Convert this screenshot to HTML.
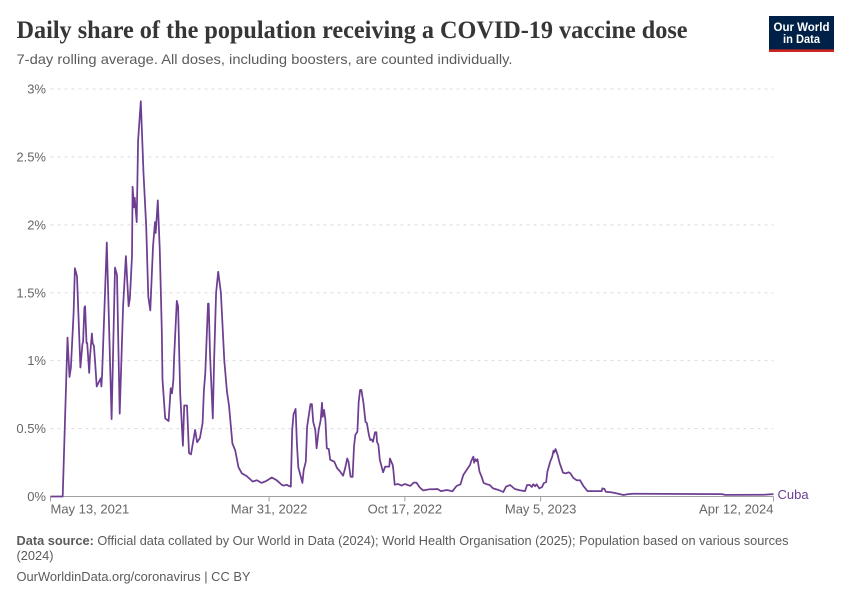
<!DOCTYPE html>
<html lang="en">
<head>
<meta charset="utf-8">
<title>Daily share of the population receiving a COVID-19 vaccine dose</title>
<style>
html,body{margin:0;padding:0;background:#fff;}
svg{display:block;}
text{font-family:"Liberation Sans",sans-serif;}
</style>
</head>
<body>
<svg id="chart" width="850" height="600" viewBox="0 0 850 600" xmlns="http://www.w3.org/2000/svg">
  <rect x="0" y="0" width="850" height="600" fill="#ffffff"/>
  <text x="16.5" y="38" font-size="25" font-weight="700" fill="#363636" textLength="671" lengthAdjust="spacingAndGlyphs" style="font-family:'Liberation Serif',serif;">Daily share of the population receiving a COVID-19 vaccine dose</text>
  <text x="16.5" y="64" font-size="14" fill="#5b5b5b" textLength="496" lengthAdjust="spacingAndGlyphs">7-day rolling average. All doses, including boosters, are counted individually.</text>

  <g>
    <rect x="769" y="16" width="65" height="36" fill="#002147"/>
    <rect x="769" y="49.4" width="65" height="2.6" fill="#ce261e"/>
    <text x="801.5" y="31" font-size="11.5" font-weight="700" fill="#ffffff" text-anchor="middle" textLength="56" lengthAdjust="spacingAndGlyphs">Our World</text>
    <text x="801.5" y="43" font-size="11.5" font-weight="700" fill="#ffffff" text-anchor="middle" textLength="37" lengthAdjust="spacingAndGlyphs">in Data</text>
  </g>

  <g id="grid"></g>
  <g id="yLabels"></g>
  <g id="xAxis"></g>
  <g id="series"></g>

  <text x="16.5" y="545" font-size="13" fill="#5b5b5b" textLength="772" lengthAdjust="spacingAndGlyphs"><tspan font-weight="700">Data source:</tspan> Official data collated by Our World in Data (2024); World Health Organisation (2025); Population based on various sources</text>
  <text x="16.5" y="560" font-size="13" fill="#5b5b5b" textLength="37" lengthAdjust="spacingAndGlyphs">(2024)</text>
  <text x="16.5" y="581" font-size="13" fill="#5b5b5b" textLength="234" lengthAdjust="spacingAndGlyphs">OurWorldinData.org/coronavirus | CC BY</text>
</svg>
<script>
// Days since May 13, 2021
var days = [0,18,23,25,28,30,34,36,39,44,47,48,50,51,53,54,57,58,61,62,64,66,68,72,74,75,76,83,90,95,98,102,107,111,115,117,120,121,123,124,127,129,133,137,141,144,147,151,154,155,158,161,164,165,169,174,177,179,181,182,186,188,191,195,197,201,204,207,213,216,220,224,226,228,232,233,235,239,241,244,247,251,256,260,263,268,272,277,282,289,298,304,311,318,326,333,341,344,348,350,354,356,358,361,363,365,367,371,373,376,378,381,383,385,387,390,392,395,398,400,401,403,405,407,410,412,418,422,426,431,434,437,439,442,445,447,449,452,454,456,458,461,464,466,469,471,473,475,478,480,481,483,485,490,493,499,500,504,505,507,512,517,522,530,535,539,544,549,558,564,570,575,584,592,598,604,608,613,618,620,623,624,626,628,629,632,635,638,643,647,652,660,667,671,677,684,692,699,702,706,709,711,714,716,720,724,727,730,732,736,739,741,742,744,747,750,755,759,763,766,770,775,780,785,791,812,813,816,818,827,834,844,851,859,989,994,1050,1065];
// Daily share of the population receiving a dose, percent
var shares = [0,0,0.83,1.17,0.88,0.95,1.35,1.68,1.62,0.95,1.12,1.14,1.39,1.40,1.13,1.13,0.91,1.02,1.20,1.13,1.11,0.97,0.81,0.85,0.87,0.81,0.90,1.87,0.57,1.685,1.63,0.61,1.40,1.77,1.40,1.46,1.77,2.28,2.13,2.20,2.02,2.62,2.91,2.38,1.99,1.47,1.37,1.84,2.02,1.94,2.18,1.81,1.22,0.86,0.575,0.556,0.797,0.76,0.86,1.02,1.44,1.40,0.76,0.374,0.67,0.67,0.32,0.31,0.49,0.40,0.43,0.54,0.78,0.91,1.42,1.42,1.05,0.575,1.00,1.50,1.655,1.50,1.00,0.77,0.67,0.39,0.34,0.215,0.17,0.15,0.11,0.12,0.10,0.115,0.14,0.12,0.085,0.08,0.087,0.08,0.072,0.49,0.605,0.645,0.39,0.215,0.18,0.10,0.195,0.256,0.514,0.617,0.68,0.68,0.55,0.49,0.355,0.49,0.563,0.69,0.587,0.637,0.563,0.355,0.35,0.27,0.256,0.21,0.188,0.153,0.207,0.28,0.256,0.146,0.144,0.367,0.453,0.477,0.698,0.784,0.784,0.686,0.55,0.54,0.453,0.416,0.42,0.403,0.473,0.473,0.403,0.38,0.27,0.178,0.22,0.22,0.28,0.232,0.20,0.087,0.092,0.08,0.092,0.078,0.102,0.102,0.066,0.045,0.053,0.053,0.055,0.04,0.048,0.038,0.077,0.09,0.158,0.195,0.232,0.264,0.293,0.249,0.274,0.26,0.274,0.183,0.146,0.10,0.09,0.085,0.06,0.048,0.033,0.072,0.085,0.055,0.045,0.04,0.085,0.085,0.07,0.09,0.075,0.09,0.06,0.07,0.10,0.105,0.183,0.256,0.293,0.337,0.325,0.35,0.306,0.245,0.175,0.17,0.178,0.17,0.138,0.12,0.12,0.077,0.04,0.04,0.06,0.055,0.035,0.03,0.023,0.011,0.018,0.02,0.018,0.012,0.013,0.018];
var yTicks = [0,0.5,1,1.5,2,2.5,3];
var yTickLabels = ["0%","0.5%","1%","1.5%","2%","2.5%","3%"];
var xTicks = [0,322,522,722,1065];
var xTickLabels = ["May 13, 2021","Mar 31, 2022","Oct 17, 2022","May 5, 2023","Apr 12, 2024"];
var seriesName = "Cuba";

var NS = "http://www.w3.org/2000/svg";
var LEFT = 50.5, RIGHT = 773.5, BOTTOM = 496.5, TOP = 89, MAX_DAY = 1065, MAX_Y = 3;
function xScale(d){ return LEFT + d / MAX_DAY * (RIGHT - LEFT); }
function yScale(v){ return BOTTOM - v / MAX_Y * (BOTTOM - TOP); }
function make(tag, attrs, parent, txt){
  var el = document.createElementNS(NS, tag);
  for (var k in attrs) el.setAttribute(k, attrs[k]);
  if (txt !== undefined) el.textContent = txt;
  parent.appendChild(el);
  return el;
}
var grid = document.getElementById("grid");
var yLabels = document.getElementById("yLabels");
var xAxis = document.getElementById("xAxis");
var series = document.getElementById("series");

yTicks.forEach(function(v, i){
  if (v !== 0) {
    var g = make("line", {x1:LEFT, x2:RIGHT, y1:yScale(v), y2:yScale(v), stroke:"#dddddd", "stroke-width":1, "stroke-dasharray":"3,4"}, grid);
    
    
  }
  var t = make("text", {x:46, y:yScale(v)+4.5, "font-size":13, fill:"#666666", "text-anchor":"end"}, yLabels, yTickLabels[i]);
  
  
});

var axisLine = make("line", {x1:LEFT, x2:RIGHT, y1:BOTTOM, y2:BOTTOM, stroke:"#a1a1a1", "stroke-width":1}, xAxis);



xTicks.forEach(function(d, i){
  var tick = make("line", {x1:xScale(d), x2:xScale(d), y1:BOTTOM, y2:BOTTOM+5, stroke:"#a1a1a1", "stroke-width":1}, xAxis);
  
  
  var anchor = i === 0 ? "start" : (i === xTicks.length - 1 ? "end" : "middle");
  var t = make("text", {x:xScale(d), y:BOTTOM+17, "font-size":13, fill:"#666666", "text-anchor":anchor}, xAxis, xTickLabels[i]);
  
  
});

var pts = days.map(function(d, i){ return xScale(d).toFixed(1) + "," + yScale(shares[i]).toFixed(1); }).join(" ");
var line = make("polyline", {points:pts, fill:"none", stroke:"#6d3e91", "stroke-width":1.75, "stroke-linejoin":"round"}, series);



var lastY = yScale(shares[shares.length - 1]);
var label = make("text", {x:777.5, y:lastY+5, "font-size":13, fill:"#6d3e91"}, series, seriesName);


</script>
</body>
</html>
